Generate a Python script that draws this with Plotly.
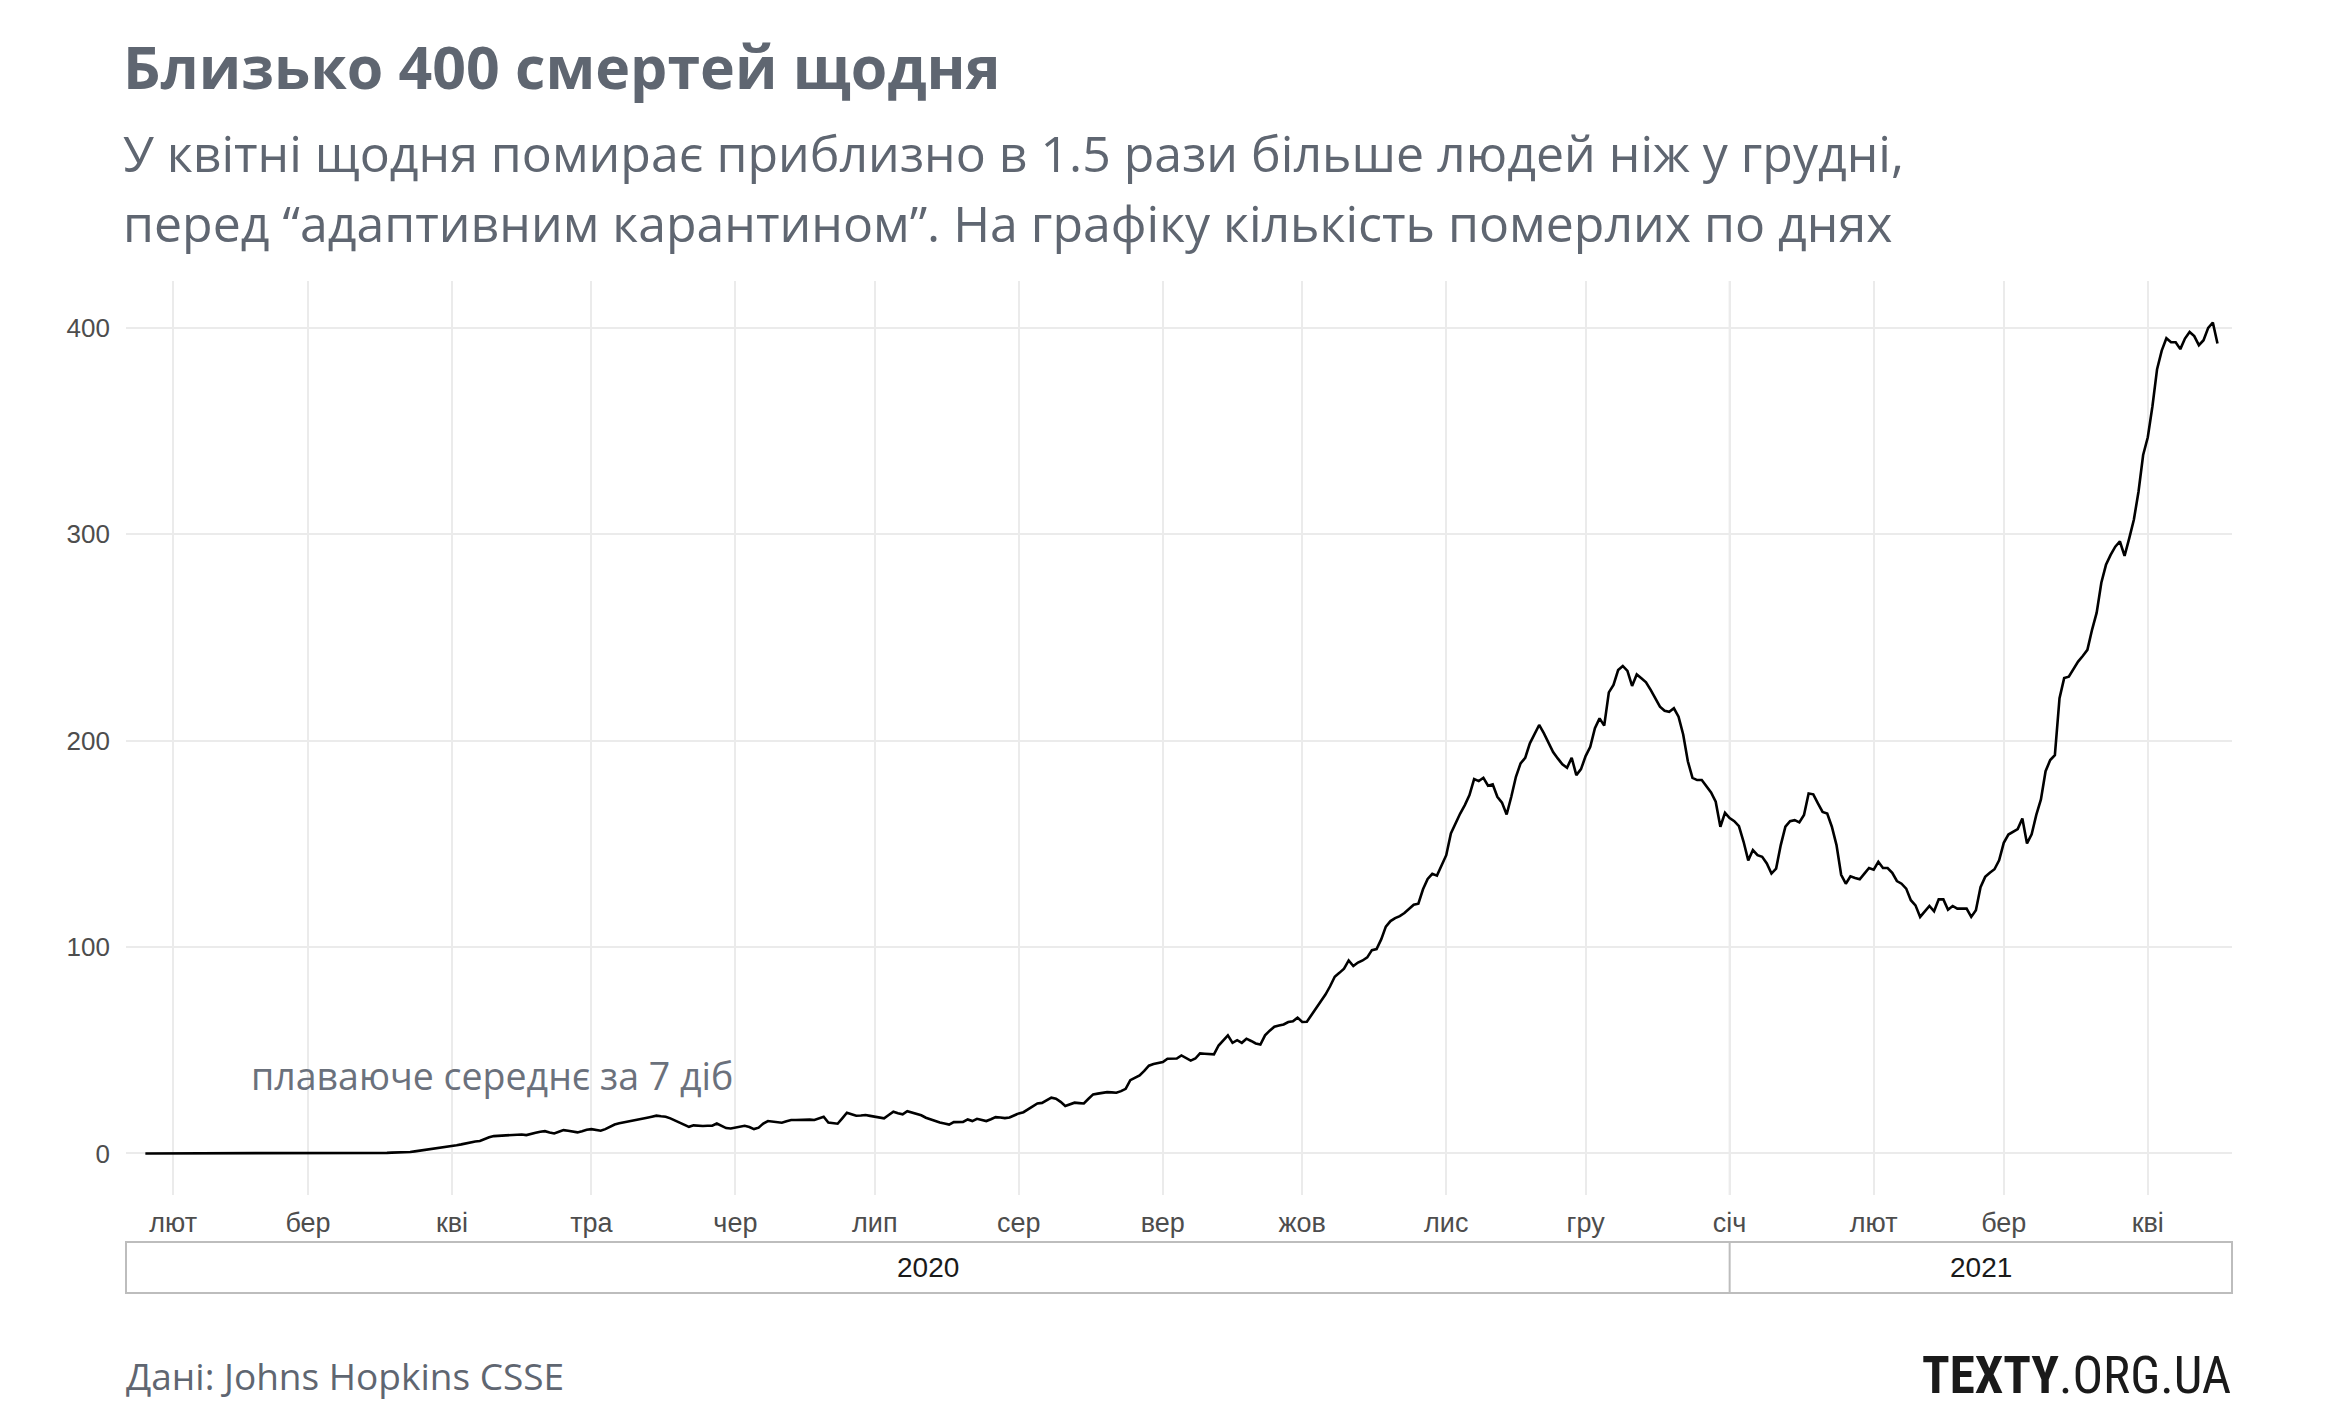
import pandas as pd
import plotly.graph_objects as go

# ---- data: 7-day rolling average of daily COVID-19 deaths, Ukraine ----
start_date = "2020-01-26"
jan2020 = [0, 0, 0, 0, 0, 0]
feb2020 = [0, 0, 0, 0, 0, 0, 0, 0, 0, 0, 0, 0, 0, 0, 0, 0, 0, 0, 0, 0, 0, 0, 0, 0, 0, 0, 0, 0, 0]
mar2020 = [0, 0, 0, 0, 0, 0, 0, 0, 0, 0, 0, 0, 0.1, 0.1, 0.3, 0.3, 0.3, 0.3, 0.4, 0.4, 0.4,
           0.6, 0.7, 1.0, 1.3, 1.6, 2.0, 2.3, 2.6, 3.0, 3.3]
apr2020 = [3.6, 4.0, 4.4, 4.9, 5.4, 5.8, 6.0, 7.0, 7.8, 8.4, 8.5, 8.7, 8.6, 8.8, 8.9, 9.2, 8.9,
           9.3, 10.0, 10.5, 10.8, 10.2, 9.7, 10.5, 11.3, 11.0, 10.5, 10.2, 10.8, 11.5]
may2020 = [11.8, 11.4, 11.0, 11.8, 13.0, 14.0, 14.6, 15.0, 15.4, 15.8, 16.2, 16.8, 17.3, 17.8,
           18.3, 18.0, 17.8, 17.0, 16.0, 15.3, 14.0, 12.9, 13.6, 13.4, 13.3, 13.4, 13.4, 14.5,
           13.2, 12.3, 12.1]
jun2020 = [12.6, 13.0, 13.4, 12.8, 11.8, 12.5, 14.5, 15.7, 15.4, 15.0, 14.9, 15.6, 16.2, 16.2,
           16.3, 16.2, 16.4, 16.2, 17.0, 17.8, 15.0, 14.7, 14.4, 17.0, 19.7, 19.0, 18.3, 18.4,
           18.6, 18.2]
jul2020 = [17.8, 17.2, 17.0, 18.6, 20.2, 19.5, 19.0, 20.5, 19.9, 19.4, 18.5, 17.3, 16.5, 15.7,
           15.0, 14.5, 14.0, 15.2, 15.2, 15.3, 16.5, 15.7, 16.8, 16.2, 15.7, 16.6, 17.6, 17.4,
           17.1, 17.4, 18.5]
aug2020 = [19.4, 20.0, 21.5, 23.0, 24.2, 24.5, 25.8, 27.0, 26.5, 25.0, 23.0, 24.0, 24.6, 24.4,
           24.2, 26.5, 28.6, 29.0, 29.4, 29.7, 29.6, 29.4, 30.2, 31.3, 35.5, 36.5, 37.8, 40.0,
           42.5, 43.3, 43.8]
sep2020 = [44.3, 45.9, 46.0, 46.0, 47.5, 46.2, 45.0, 46.0, 48.5, 48.3, 48.2, 48.0, 52.3, 55.0,
           57.2, 53.6, 54.9, 53.6, 55.6, 54.5, 53.3, 52.8, 57.2, 59.5, 61.4, 62.0, 62.5, 63.7,
           64.0, 65.8]
oct2020 = [63.7, 63.8, 67.0, 70.5, 74.0, 77.0, 81.0, 85.6, 87.5, 89.5, 93.5, 90.8, 92.5, 93.5,
           95.0, 98.5, 99.0, 103.7, 109.9, 112.6, 114.0, 115.0, 116.5, 118.5, 120.5, 121.0,
           128.0, 133.0, 135.5, 134.6, 139.3]
nov2020 = [144.5, 155.0, 160.0, 164.7, 168.8, 173.6, 181.4, 180.4, 182.0, 178.2, 178.8, 172.8,
           170.0, 164.2, 172.8, 182.5, 189.0, 191.7, 198.7, 203.0, 207.6, 203.6, 198.7, 194.5,
           191.4, 188.5, 186.9, 191.7, 183.3, 186.2]
dec2020 = [192.5, 197.0, 206.0, 210.8, 207.3, 223.4, 227.0, 234.2, 236.2, 233.8, 226.5, 232.1,
           230.2, 228.3, 224.6, 220.5, 216.5, 214.5, 214.0, 215.7, 211.6, 203.0, 190.0, 182.0,
           180.9, 180.9, 177.7, 174.9, 170.4, 158.3, 165.0]
jan2021 = [162.5, 161.0, 158.6, 151.0, 142.0, 147.0, 144.5, 143.7, 140.5, 135.6, 138.0, 149.4,
           158.3, 161.0, 161.5, 160.4, 164.0, 174.4, 174.0, 169.6, 165.5, 164.7, 158.3, 149.4,
           135.0, 130.7, 134.3, 133.5, 132.8, 135.6, 138.3]
feb2021 = [137.5, 141.3, 138.3, 138.3, 136.0, 132.0, 130.7, 128.3, 122.7, 120.2, 114.6, 117.0,
           119.9, 117.3, 123.1, 123.1, 118.1, 119.9, 118.6, 118.6, 118.6, 114.6, 117.8, 129.0,
           134.0, 136.0, 137.7, 142.0]
mar2021 = [150.5, 154.5, 156.0, 157.2, 162.3, 150.2, 154.6, 164.0, 171.5, 185.2, 190.6, 193.0,
           220.6, 230.3, 231.0, 235.0, 238.3, 241.0, 244.0, 253.7, 262.0, 276.5, 285.2, 290.0,
           294.0, 296.5, 289.5, 298.0, 307.0, 320.6, 338.4]
apr2021 = [347.0, 362.0, 380.0, 389.0, 395.0, 393.0, 393.0, 389.7, 394.8, 398.0, 396.0, 391.6,
           394.0, 400.0, 402.6, 392.4]

month_ticks = ["2020-02-01", "2020-03-01", "2020-04-01", "2020-05-01", "2020-06-01",
               "2020-07-01", "2020-08-01", "2020-09-01", "2020-10-01", "2020-11-01",
               "2020-12-01", "2021-01-01", "2021-02-01", "2021-03-01", "2021-04-01"]
month_labels = ["лют", "бер", "кві", "тра", "чер", "лип", "сер", "вер", "жов", "лис",
                "гру", "січ", "лют", "бер", "кві"]
y_ticks = [0, 100, 200, 300, 400]
years = ["2020", "2021"]

values = (jan2020 + feb2020 + mar2020 + apr2020 + may2020 + jun2020 + jul2020 + aug2020 +
          sep2020 + oct2020 + nov2020 + dec2020 + jan2021 + feb2021 + mar2021 + apr2021)
dates = pd.date_range(start_date, periods=len(values), freq="D")

# ---- layout geometry (pixels) ----
W, H = 2344, 1425
L, R, T, B = 126, 2232, 281, 1195
PW, PH = R - L, B - T


def px_x(p):
    return (p - L) / PW


def px_y(p):
    return (B - p) / PH


x_lo = pd.Timestamp("2020-01-21 20:00")
x_hi = pd.Timestamp("2021-04-19 03:00")
year_split = pd.Timestamp("2021-01-01")

GRAY_TXT = "#5f6671"
TICK_TXT = "#4d4d4d"
AX_FONT = "Liberation Sans, Arial, sans-serif"

fig = go.Figure()
fig.add_trace(go.Scatter(x=dates, y=values, mode="lines",
                         line=dict(color="#000000", width=2.6), hoverinfo="skip",
                         showlegend=False))

fig.update_layout(
    width=W, height=H, autosize=False,
    margin=dict(l=L, r=W - R, t=T, b=H - B, pad=0),
    paper_bgcolor="white", plot_bgcolor="white",
    showlegend=False,
    xaxis=dict(range=[x_lo, x_hi], tickvals=month_ticks, ticktext=month_labels,
               showgrid=True, gridcolor="#ebebeb", gridwidth=2, zeroline=False,
               showline=False, ticks="", ticklabelstandoff=9,
               tickfont=dict(family=AX_FONT, size=27, color=TICK_TXT)),
    yaxis=dict(range=[-20.13, 422.7], tickvals=y_ticks,
               showgrid=True, gridcolor="#ebebeb", gridwidth=2, zeroline=False,
               showline=False, ticks="", ticklabelstandoff=15,
               tickfont=dict(family=AX_FONT, size=26, color=TICK_TXT)),
)

# darker vertical line at the year boundary
fig.add_shape(type="line", xref="x", yref="paper", x0=year_split, x1=year_split,
              y0=0, y1=1, line=dict(color="#b0b0b0", width=1.5), layer="between")

# year strip
strip_top, strip_bot = px_y(1242), px_y(1293)
fig.add_shape(type="rect", xref="paper", yref="paper", x0=0, x1=1, y0=strip_bot,
              y1=strip_top, line=dict(color="#bdbdbd", width=2), fillcolor="rgba(0,0,0,0)")
fig.add_shape(type="line", xref="x", yref="paper", x0=year_split, x1=year_split,
              y0=strip_bot, y1=strip_top, line=dict(color="#bdbdbd", width=2))
mid_2020 = x_lo + (year_split - x_lo) / 2
mid_2021 = year_split + (x_hi - year_split) / 2
for label, xm in zip(years, [mid_2020, mid_2021]):
    fig.add_annotation(x=xm, xref="x", y=(strip_top + strip_bot) / 2, yref="paper",
                       text=label, showarrow=False, xanchor="center", yanchor="middle",
                       font=dict(family=AX_FONT, size=28, color="#1a1a1a"))

# in-plot label
fig.add_annotation(x=pd.Timestamp("2020-02-17 08:00"), xref="x", y=38, yref="y",
                   text="плаваюче середнє за 7 діб", showarrow=False,
                   xanchor="left", yanchor="middle",
                   font=dict(family="Open Sans, sans-serif", size=37.5, color="#6b717c"))

# titles
fig.add_annotation(x=px_x(121), xref="paper", y=px_y(66), yref="paper",
                   text="<b>Близько 400 смертей щодня</b>", showarrow=False,
                   xanchor="left", yanchor="middle",
                   font=dict(family="Open Sans, sans-serif", size=59, color=GRAY_TXT))
fig.add_annotation(x=px_x(121), xref="paper", y=px_y(153), yref="paper",
                   text="У квітні щодня помирає приблизно в 1.5 рази більше людей ніж у грудні,",
                   showarrow=False, xanchor="left", yanchor="middle",
                   font=dict(family="Open Sans, sans-serif", size=50, color=GRAY_TXT))
fig.add_annotation(x=px_x(121), xref="paper", y=px_y(223), yref="paper",
                   text="перед “адаптивним карантином”. На графіку кількість померлих по днях",
                   showarrow=False, xanchor="left", yanchor="middle",
                   font=dict(family="Open Sans, sans-serif", size=50, color=GRAY_TXT))

# footer
fig.add_annotation(x=px_x(124), xref="paper", y=px_y(1375), yref="paper",
                   text="Дані: Johns Hopkins CSSE", showarrow=False,
                   xanchor="left", yanchor="middle",
                   font=dict(family="Open Sans, sans-serif", size=37, color=GRAY_TXT))
fig.add_annotation(x=px_x(2233), xref="paper", y=px_y(1375), yref="paper",
                   text="<b>TEXTY</b>.ORG.UA", showarrow=False,
                   xanchor="right", yanchor="middle",
                   font=dict(family="Liberation Sans Narrow, Roboto Condensed, Arial Narrow, sans-serif",
                             size=51, color="#1a1a1a"))

fig.write_html("out.html", include_plotlyjs=True, full_html=True,
               config={"displayModeBar": False},
               post_script="document.body.style.margin='0';document.body.style.overflow='hidden';")
